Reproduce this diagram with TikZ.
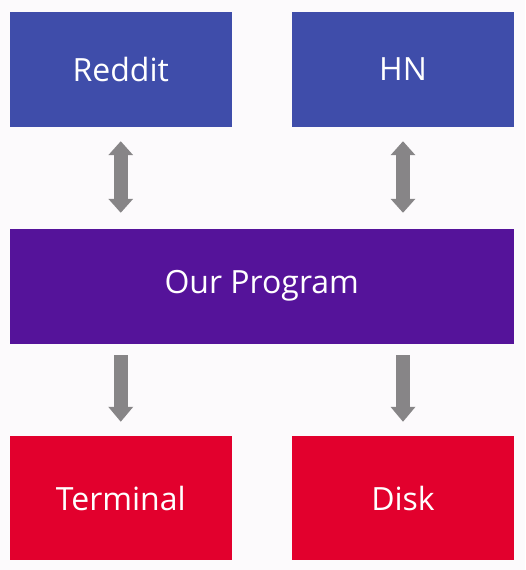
\documentclass[tikz,border=0pt]{standalone}
\usepackage{fontspec}
\setmainfont{Open Sans}
\usetikzlibrary{arrows.meta}
\definecolor{bgcol}{HTML}{FCFAFC}
\definecolor{srcblue}{HTML}{3F4DAA}
\definecolor{progpurple}{HTML}{55139A}
\definecolor{outred}{HTML}{E2002D}
\definecolor{arrowgray}{HTML}{878587}

\begin{document}
\begin{tikzpicture}[x=1pt,y=-1pt]
\tikzset{
  box/.style={fill=#1, text=white, inner sep=0pt, font=\fontsize{32}{38}\selectfont},
  grayarrow/.style={draw=arrowgray, line width=14pt, -{Triangle[width=24pt,length=15pt]}},
  grayboth/.style={draw=arrowgray, line width=14pt, {Triangle[width=24pt,length=14pt]}-{Triangle[width=24pt,length=14pt]}}
}
\fill [bgcol] (0,0) rectangle (525,570);
\useasboundingbox (0,0) rectangle (525,570);
% sources
\node [box=srcblue, minimum width=222.5pt, minimum height=115.5pt] (reddit) at (120.75,69.25) {Reddit};
\node [box=srcblue, minimum width=222pt, minimum height=115.5pt] (hn) at (403,69.25) {HN};
% program
\node [box=progpurple, minimum width=504.5pt, minimum height=115pt] (program) at (261.75,286) {Our Program};
% outputs
\node [box=outred, minimum width=222.5pt, minimum height=124pt] (terminal) at (120.75,498) {Terminal};
\node [box=outred, minimum width=222pt, minimum height=124pt] (disk) at (403,498) {Disk};
% arrows
\draw [grayboth, shorten <=14pt, shorten >=15.5pt] (reddit.south) -- (reddit.south |- program.north);
\draw [grayboth, shorten <=14pt, shorten >=15.5pt] (hn.south) -- (hn.south |- program.north);
\draw [grayarrow, shorten <=11.5pt, shorten >=14pt] (terminal.north |- program.south) -- (terminal.north);
\draw [grayarrow, shorten <=11.5pt, shorten >=14pt] (disk.north |- program.south) -- (disk.north);
\end{tikzpicture}
\end{document}
